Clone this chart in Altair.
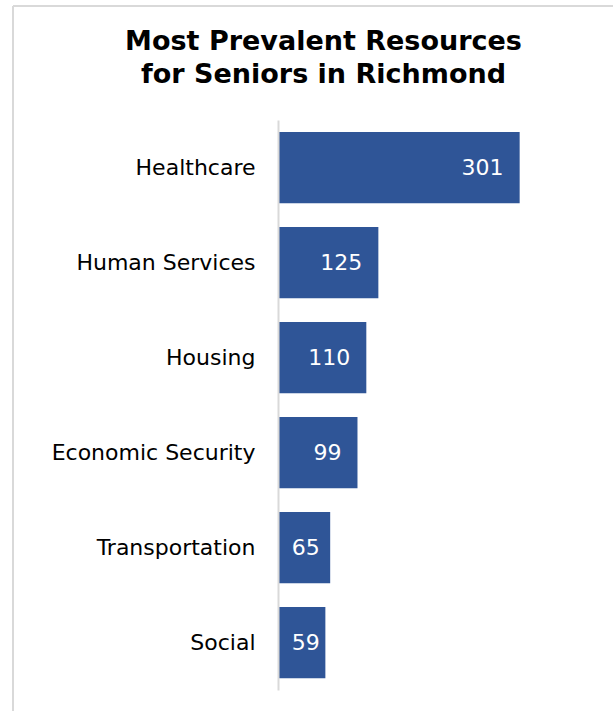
import altair as alt
import pandas as pd

categories = ["Healthcare", "Human Services", "Housing", "Economic Security", "Transportation", "Social"]
counts = [301, 125, 110, 99, 65, 59]
title_lines = ["Most Prevalent Resources", "for Seniors in Richmond"]

df = pd.DataFrame({"category": categories, "count": counts})

xscale = alt.Scale(domain=[0, 350], nice=False, zero=True)
yscale = alt.Scale(paddingInner=0.25, paddingOuter=0.125)

base = alt.Chart(df)

bars = base.mark_bar(color="#2F5597").encode(
    x=alt.X("count:Q", scale=xscale, axis=None),
    y=alt.Y(
        "category:N",
        sort=categories,
        title=None,
        scale=yscale,
        axis=alt.Axis(
            labelFontSize=22,
            labelFont="DejaVu Sans",
            labelColor="black",
            labelPadding=23,
            ticks=False,
            domainColor="#d9d9d9",
            domainWidth=2,
            labelLimit=300,
            zindex=1,
        ),
    ),
)

labels = base.transform_calculate(lx="max(datum.count - 20, 52)").mark_text(
    align="right", baseline="middle", color="white", fontSize=22, font="DejaVu Sans"
).encode(
    x=alt.X("lx:Q", scale=xscale, axis=None),
    y=alt.Y("category:N", sort=categories, scale=yscale),
    text=alt.Text("count:Q"),
)

frame_df = pd.DataFrame({"a": [0]})
left_border = alt.Chart(frame_df).mark_rule(color="#d9d9d9", strokeWidth=2).encode(
    x=alt.value(-265), y=alt.value(-114), y2=alt.value(600)
)
top_border = alt.Chart(frame_df).mark_rule(color="#d9d9d9", strokeWidth=2).encode(
    x=alt.value(-265), x2=alt.value(340), y=alt.value(-114)
)

chart = alt.layer(left_border, top_border, bars, labels).properties(
    width=281,
    height=570,
    autosize=alt.AutoSizeParams(type="none"),
    padding={"left": 278, "top": 120, "right": 54, "bottom": 21},
    title=alt.TitleParams(
        text=title_lines,
        fontSize=27,
        font="DejaVu Sans",
        fontWeight="bold",
        color="black",
        anchor="middle",
        frame="group",
        baseline="top",
        dx=-95,
        lineHeight=33,
        offset=-84,
    ),
).configure_view(stroke=None)

chart.save("out.html", embed_options={"renderer": "svg", "actions": False})
